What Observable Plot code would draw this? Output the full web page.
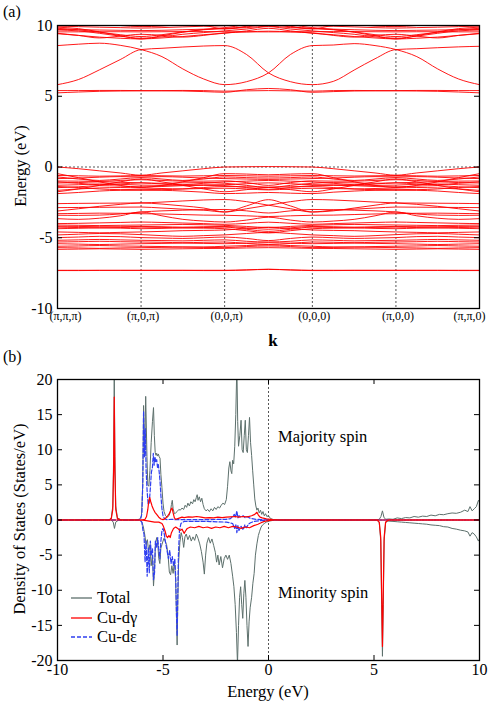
<!DOCTYPE html>
<html><head><meta charset="utf-8">
<script src="https://cdn.jsdelivr.net/npm/d3@7"></script>
<script src="https://cdn.jsdelivr.net/npm/@observablehq/plot@0.6"></script>
<style>
body{margin:0;background:#fff;}
#wrap{position:relative;width:491px;height:703px;color:#000;overflow:hidden;}
.abs{position:absolute;white-space:nowrap;line-height:1;}
.rot{transform:translate(-50%,-50%) rotate(-90deg);}
.ctr{transform:translate(-50%,-50%);}
.mid{transform:translateY(-50%);}
</style></head><body><div id="wrap"></div>
<script>
// ---------- Panel (a): band structure ----------
const kTicks = [0, 1, 2, 3.05, 4.05, 5.05];
const kLabels = ["(\u03c0,\u03c0,\u03c0)", "(\u03c0,0,\u03c0)", "(0,0,\u03c0)", "(0,0,0)", "(\u03c0,0,0)", "(\u03c0,\u03c0,0)"];
const kGrid = [0, 0.25, 0.5, 0.75, 1, 1.25, 1.5, 1.75, 2, 2.2625, 2.525, 2.7875, 3.05, 3.3, 3.55, 3.8, 4.05, 4.3, 4.55, 4.8, 5.05];
const energyTicks = [-10, -5, 0, 5, 10];

const conductionBands = [
  [5.40,5.40,5.41,5.41,5.40,5.40,5.41,5.40,5.36,5.38,5.40,5.38,5.36,5.40,5.41,5.40,5.40,5.41,5.41,5.40,5.40],
  [5.24,5.30,5.35,5.37,5.38,5.38,5.37,5.33,5.28,5.46,5.55,5.46,5.28,5.33,5.37,5.38,5.38,5.37,5.35,5.30,5.24],
  [5.82,6.18,6.86,7.59,8.30,8.39,8.48,8.55,8.58,7.95,6.65,6.03,5.82,6.05,6.85,7.65,8.30,8.36,8.43,8.49,8.53],
  [8.58,8.68,8.75,8.60,8.30,7.80,6.93,6.22,5.82,6.03,6.65,7.95,8.58,8.62,8.72,8.58,8.30,7.80,6.93,6.22,5.82]
];
const upperBands = [
  [9.55,9.55,9.56,9.56,9.55,9.56,9.57,9.57,9.56,9.55,9.55,9.55,9.56,9.57,9.57,9.56,9.55,9.56,9.56,9.55,9.55],
  [9.88,9.78,9.55,9.28,9.05,9.28,9.52,9.72,9.85,10.05,10.3,10.05,9.85,9.72,9.52,9.28,9.05,9.28,9.55,9.78,9.88],
  [9.42,9.30,9.18,9.10,9.05,9.12,9.22,9.35,9.45,9.62,9.80,9.62,9.45,9.35,9.22,9.12,9.05,9.10,9.18,9.30,9.42],
  [9.68,9.62,9.45,9.25,9.10,9.20,9.38,9.50,9.62,9.75,9.92,9.75,9.62,9.50,9.38,9.20,9.10,9.25,9.45,9.62,9.68],
  [9.45,9.30,9.12,9.25,9.38,9.30,9.18,9.30,9.48,9.55,9.60,9.55,9.48,9.30,9.18,9.30,9.38,9.25,9.12,9.30,9.45],
  [9.95,9.92,9.88,9.85,9.82,9.85,9.90,9.95,9.98,10.1,10.25,10.1,9.98,9.95,9.90,9.85,9.82,9.85,9.88,9.92,9.95],
  [10.3,10.2,10.1,10.0,9.92,9.96,10.05,10.0,9.75,9.95,10.3,9.95,9.75,10.0,10.05,9.96,9.92,10.0,10.1,10.2,10.3],
  [9.72,9.70,9.68,9.66,9.64,9.66,9.70,9.74,9.78,9.85,9.95,9.85,9.78,9.74,9.70,9.66,9.64,9.66,9.68,9.70,9.72],
  [9.80,9.70,9.52,9.35,9.22,9.35,9.55,9.70,9.80,9.90,10.1,9.90,9.80,9.70,9.55,9.35,9.22,9.35,9.52,9.70,9.80]
];
const valenceTop = [
  [0,-0.12,-0.27,-0.42,-0.58,-0.42,-0.27,-0.12,0,0.02,0.03,0.02,0,-0.12,-0.27,-0.42,-0.58,-0.42,-0.27,-0.12,0],
  [-0.60,-0.62,-0.65,-0.63,-0.60,-0.62,-0.64,-0.62,-0.60,-0.62,-0.65,-0.62,-0.60,-0.62,-0.64,-0.62,-0.60,-0.62,-0.65,-0.63,-0.60],
  [-0.82,-0.78,-0.72,-0.68,-0.70,-0.68,-0.72,-0.78,-0.82,-0.85,-0.88,-0.85,-0.82,-0.78,-0.72,-0.68,-0.70,-0.68,-0.72,-0.78,-0.82],
  [-0.99,-1.00,-1.02,-0.95,-0.90,-0.95,-1.00,-1.00,-0.98,-1.10,-1.30,-1.10,-0.98,-1.00,-1.00,-0.95,-0.90,-0.95,-1.02,-1.00,-0.99],
  [-1.13,-1.10,-1.05,-1.08,-1.12,-1.15,-1.12,-1.10,-1.15,-1.30,-1.45,-1.30,-1.15,-1.10,-1.12,-1.15,-1.12,-1.08,-1.05,-1.10,-1.13],
  [-1.29,-1.25,-1.20,-1.22,-1.28,-1.30,-1.28,-1.26,-1.25,-1.18,-1.12,-1.18,-1.25,-1.26,-1.28,-1.30,-1.28,-1.22,-1.20,-1.25,-1.29],
  [-1.46,-1.40,-1.32,-1.35,-1.40,-1.38,-1.32,-1.30,-1.32,-1.45,-1.58,-1.45,-1.32,-1.30,-1.32,-1.38,-1.40,-1.35,-1.32,-1.40,-1.46],
  [-1.65,-1.55,-1.48,-1.45,-1.48,-1.52,-1.55,-1.52,-1.50,-1.55,-1.62,-1.55,-1.50,-1.52,-1.55,-1.52,-1.48,-1.45,-1.48,-1.55,-1.65],
  [-1.88,-1.80,-1.70,-1.65,-1.65,-1.65,-1.70,-1.78,-1.88,-1.85,-1.80,-1.85,-1.88,-1.78,-1.70,-1.65,-1.65,-1.65,-1.70,-1.80,-1.88],
  [-0.47,-0.75,-1.05,-1.30,-1.45,-1.30,-1.05,-0.75,-0.47,-0.50,-0.55,-0.50,-0.47,-0.75,-1.05,-1.30,-1.45,-1.30,-1.05,-0.75,-0.47],
  [-1.75,-1.55,-1.30,-1.05,-0.85,-1.05,-1.30,-1.55,-1.75,-1.60,-1.45,-1.60,-1.75,-1.55,-1.30,-1.05,-0.85,-1.05,-1.30,-1.55,-1.75],
  [-1.05,-1.15,-1.25,-1.20,-1.12,-1.20,-1.25,-1.15,-1.05,-1.00,-0.95,-1.00,-1.05,-1.15,-1.25,-1.20,-1.12,-1.20,-1.25,-1.15,-1.05],
  [-1.38,-1.45,-1.55,-1.60,-1.58,-1.60,-1.55,-1.45,-1.38,-1.40,-1.42,-1.40,-1.38,-1.45,-1.55,-1.60,-1.58,-1.60,-1.55,-1.45,-1.38],
  [-0.70,-0.85,-0.95,-0.85,-0.75,-0.85,-0.95,-0.85,-0.70,-0.75,-0.78,-0.75,-0.70,-0.85,-0.95,-0.85,-0.75,-0.85,-0.95,-0.85,-0.70]
];
const valenceMiddle = [
  [-2.59,-2.57,-2.56,-2.55,-2.54,-2.48,-2.40,-2.33,-2.30,-2.45,-2.70,-2.95,-3.18,-3.10,-2.90,-2.70,-2.54,-2.55,-2.56,-2.57,-2.59],
  [-3.11,-2.95,-2.78,-2.64,-2.54,-2.62,-2.75,-2.90,-3.18,-2.95,-2.70,-2.45,-2.30,-2.33,-2.40,-2.48,-2.54,-2.64,-2.78,-2.95,-3.11],
  [-2.87,-2.86,-2.85,-2.84,-2.83,-2.90,-2.98,-3.05,-3.18,-2.75,-2.31,-2.75,-3.18,-3.05,-2.98,-2.90,-2.83,-2.84,-2.85,-2.86,-2.87],
  [-3.41,-3.42,-3.40,-3.32,-3.18,-3.10,-3.05,-3.02,-3.00,-3.10,-3.25,-3.10,-3.00,-3.02,-3.05,-3.10,-3.18,-3.32,-3.40,-3.42,-3.41],
  [-3.65,-3.70,-3.62,-3.45,-3.18,-3.45,-3.70,-3.82,-3.89,-3.75,-3.55,-3.75,-3.89,-3.82,-3.70,-3.45,-3.18,-3.45,-3.62,-3.70,-3.65],
  [-3.30,-3.28,-3.26,-3.27,-3.30,-3.32,-3.36,-3.40,-3.41,-3.45,-3.50,-3.45,-3.41,-3.40,-3.36,-3.32,-3.30,-3.27,-3.26,-3.28,-3.30],
  [-4.00,-3.98,-3.95,-3.92,-3.89,-3.92,-3.96,-4.00,-4.05,-3.98,-3.90,-3.98,-4.05,-4.00,-3.96,-3.92,-3.89,-3.92,-3.95,-3.98,-4.00]
];
const valenceLower = [
  [-4.10,-4.12,-4.14,-4.12,-4.10,-4.08,-4.06,-4.08,-4.12,-4.20,-4.28,-4.20,-4.12,-4.08,-4.06,-4.08,-4.10,-4.12,-4.14,-4.12,-4.10],
  [-4.19,-4.20,-4.22,-4.22,-4.20,-4.22,-4.25,-4.22,-4.20,-4.30,-4.40,-4.30,-4.20,-4.22,-4.25,-4.22,-4.20,-4.22,-4.22,-4.20,-4.19],
  [-4.25,-4.28,-4.30,-4.28,-4.25,-4.27,-4.30,-4.28,-4.25,-4.40,-4.55,-4.40,-4.25,-4.28,-4.30,-4.27,-4.25,-4.28,-4.30,-4.28,-4.25],
  [-4.36,-4.33,-4.30,-4.32,-4.36,-4.34,-4.30,-4.32,-4.36,-4.50,-4.66,-4.50,-4.36,-4.32,-4.30,-4.34,-4.36,-4.32,-4.30,-4.33,-4.36],
  [-4.59,-4.62,-4.65,-4.62,-4.59,-4.55,-4.50,-4.48,-4.45,-4.35,-4.25,-4.35,-4.45,-4.48,-4.50,-4.55,-4.59,-4.62,-4.65,-4.62,-4.59],
  [-4.80,-4.75,-4.70,-4.72,-4.78,-4.85,-4.90,-4.85,-4.80,-4.70,-4.62,-4.70,-4.80,-4.85,-4.90,-4.85,-4.78,-4.72,-4.70,-4.75,-4.80],
  [-4.99,-4.95,-4.90,-4.92,-4.99,-5.02,-5.05,-5.00,-4.95,-5.05,-5.20,-5.05,-4.95,-5.00,-5.05,-5.02,-4.99,-4.92,-4.90,-4.95,-4.99],
  [-5.18,-5.15,-5.12,-5.15,-5.18,-5.20,-5.22,-5.18,-5.15,-5.25,-5.30,-5.25,-5.15,-5.18,-5.22,-5.20,-5.18,-5.15,-5.12,-5.15,-5.18],
  [-5.30,-5.28,-5.25,-5.28,-5.30,-5.32,-5.35,-5.32,-5.30,-5.40,-5.48,-5.40,-5.30,-5.32,-5.35,-5.32,-5.30,-5.28,-5.25,-5.28,-5.30],
  [-5.42,-5.45,-5.48,-5.45,-5.42,-5.40,-5.38,-5.40,-5.42,-5.38,-5.35,-5.38,-5.42,-5.40,-5.38,-5.40,-5.42,-5.45,-5.48,-5.45,-5.42],
  [-5.60,-5.58,-5.55,-5.58,-5.60,-5.62,-5.65,-5.65,-5.60,-5.55,-5.50,-5.55,-5.60,-5.65,-5.65,-5.62,-5.60,-5.58,-5.55,-5.58,-5.60],
  [-5.70,-5.72,-5.75,-5.72,-5.70,-5.68,-5.66,-5.68,-5.70,-5.62,-5.58,-5.62,-5.70,-5.68,-5.66,-5.68,-5.70,-5.72,-5.75,-5.72,-5.70],
  [-5.82,-5.80,-5.78,-5.80,-5.82,-5.80,-5.78,-5.76,-5.75,-5.72,-5.70,-5.72,-5.75,-5.76,-5.78,-5.80,-5.82,-5.80,-5.78,-5.80,-5.82]
];
const deepBands = [
  [-7.30,-7.30,-7.30,-7.30,-7.30,-7.30,-7.30,-7.30,-7.30,-7.27,-7.24,-7.27,-7.30,-7.30,-7.30,-7.30,-7.30,-7.30,-7.30,-7.30,-7.30],
  [-7.32,-7.32,-7.31,-7.31,-7.31,-7.31,-7.31,-7.32,-7.32,-7.28,-7.22,-7.28,-7.32,-7.32,-7.31,-7.31,-7.31,-7.31,-7.31,-7.32,-7.32]
];

// ---------- Panel (b): density of states [energy, DOS] ----------
const dosTicksX = [-10, -5, 0, 5, 10];
const dosTicksY = [-20, -15, -10, -5, 0, 5, 10, 15, 20];
const totalUp = [[-10,0],[-7.55,0.05],[-7.45,0.3],[-7.38,2],[-7.34,9],[-7.31,21],[-7.28,9],[-7.24,2],[-7.16,0.3],[-7.0,0.05],[-6.4,0],[-6.1,0.1],[-6.02,0.6],[-5.96,5],[-5.92,16.3],[-5.87,9],[-5.82,17.6],[-5.76,9],[-5.72,5],[-5.67,4.8],[-5.62,7],[-5.56,11],[-5.5,14],[-5.45,16.0],[-5.41,12],[-5.37,9.6],[-5.33,9.2],[-5.3,9.5],[-5.26,9.1],[-5.22,9.4],[-5.18,9.0],[-5.14,8.8],[-5.1,6.5],[-5.05,4.6],[-5.0,2.4],[-4.95,1.2],[-4.88,0.6],[-4.8,0.4],[-4.72,0.6],[-4.65,1.2],[-4.6,2.2],[-4.56,2.8],[-4.52,1.6],[-4.46,0.9],[-4.4,1.0],[-4.33,1.2],[-4.25,1.5],[-4.18,1.4],[-4.1,1.7],[-4.02,1.5],[-3.95,2.1],[-3.88,1.8],[-3.82,2.4],[-3.75,2.0],[-3.68,2.6],[-3.6,2.3],[-3.54,2.9],[-3.48,2.6],[-3.42,3.2],[-3.38,3.6],[-3.34,2.8],[-3.28,3.3],[-3.22,2.6],[-3.16,3.1],[-3.1,2.2],[-3.04,1.6],[-2.96,1.3],[-2.88,1.5],[-2.8,1.2],[-2.72,1.6],[-2.64,1.3],[-2.56,1.8],[-2.48,1.5],[-2.4,1.9],[-2.32,1.7],[-2.24,2.1],[-2.16,2.4],[-2.08,2.2],[-2.0,2.9],[-1.94,4.8],[-1.88,7.4],[-1.83,8.3],[-1.78,7.0],[-1.74,6.6],[-1.7,8.5],[-1.65,8.0],[-1.6,10.5],[-1.55,15],[-1.5,22],[-1.46,14],[-1.42,10.5],[-1.36,12],[-1.3,14.2],[-1.25,10],[-1.2,9.6],[-1.15,12],[-1.1,14.2],[-1.05,10],[-1.0,9.6],[-0.95,12],[-0.9,14.6],[-0.85,11],[-0.8,9.2],[-0.75,7.0],[-0.7,5.0],[-0.65,3.0],[-0.6,2.0],[-0.55,1.4],[-0.5,1.7],[-0.44,1.0],[-0.38,1.4],[-0.32,0.8],[-0.26,1.2],[-0.2,0.6],[-0.14,0.9],[-0.08,0.5],[0,0.6],[0.1,0.2],[0.25,0.05],[0.5,0],[5.1,0],[5.25,0.1],[5.33,0.5],[5.4,1.3],[5.47,0.4],[5.55,0.1],[5.7,0.15],[5.9,0.1],[6.1,0.3],[6.3,0.2],[6.5,0.35],[6.7,0.3],[6.9,0.5],[7.1,0.4],[7.3,0.55],[7.5,0.5],[7.7,0.7],[7.9,0.6],[8.1,0.8],[8.3,0.75],[8.5,0.9],[8.7,1.0],[8.9,0.95],[9.1,1.1],[9.3,1.4],[9.45,1.2],[9.55,1.9],[9.65,1.3],[9.75,1.6],[9.85,1.9],[9.95,2.8],[10,2.6]];
const totalDown = [[-10,0],[-7.45,0],[-7.36,-0.3],[-7.3,-1.2],[-7.24,-0.3],[-7.1,0],[-6.1,0],[-6.0,-0.3],[-5.93,-1.0],[-5.87,-2.0],[-5.8,-3.5],[-5.74,-2.8],[-5.68,-4.5],[-5.62,-3.5],[-5.56,-6.5],[-5.5,-5.0],[-5.45,-9.4],[-5.4,-7.0],[-5.36,-3.5],[-5.3,-2.5],[-5.25,-3.3],[-5.2,-5.5],[-5.15,-6.2],[-5.1,-4.0],[-5.05,-3.5],[-5.0,-3.0],[-4.95,-2.6],[-4.9,-3.0],[-4.83,-3.5],[-4.76,-5.0],[-4.7,-7.4],[-4.64,-7.8],[-4.58,-6.5],[-4.52,-7.6],[-4.46,-6.0],[-4.4,-8.5],[-4.36,-14],[-4.33,-17.8],[-4.3,-12],[-4.26,-6],[-4.2,-3.2],[-4.14,-1.8],[-4.08,-2.5],[-4.02,-3.9],[-3.96,-2.4],[-3.9,-2.0],[-3.82,-2.8],[-3.74,-2.2],[-3.66,-3.0],[-3.58,-2.4],[-3.5,-2.9],[-3.42,-2.0],[-3.34,-2.6],[-3.26,-3.4],[-3.18,-4.5],[-3.1,-6.0],[-3.04,-7.7],[-2.98,-5.0],[-2.92,-3.3],[-2.84,-2.5],[-2.76,-3.3],[-2.68,-2.7],[-2.6,-3.6],[-2.52,-4.6],[-2.46,-6.0],[-2.4,-5.0],[-2.34,-6.4],[-2.26,-5.2],[-2.18,-6.8],[-2.1,-5.5],[-2.02,-5.0],[-1.94,-5.6],[-1.86,-5.0],[-1.78,-6.2],[-1.7,-8.0],[-1.64,-9.5],[-1.58,-12],[-1.52,-16],[-1.47,-20.5],[-1.42,-15],[-1.37,-11],[-1.32,-9.5],[-1.27,-12],[-1.22,-14],[-1.17,-10.5],[-1.12,-8.6],[-1.07,-11],[-1.02,-15],[-0.97,-18],[-0.92,-14.5],[-0.87,-12.5],[-0.8,-11],[-0.74,-9],[-0.68,-7.6],[-0.62,-5],[-0.55,-3.4],[-0.48,-2.2],[-0.42,-1.6],[-0.35,-1.0],[-0.28,-0.7],[-0.2,-0.5],[-0.1,-0.3],[0.05,-0.15],[0.3,0],[5.15,0],[5.25,-0.4],[5.32,-3],[5.36,-12],[5.4,-19.4],[5.44,-12],[5.48,-3],[5.55,-0.4],[5.65,-0.15],[5.9,-0.2],[6.1,-0.25],[6.3,-0.3],[6.5,-0.35],[6.7,-0.4],[6.9,-0.45],[7.1,-0.5],[7.3,-0.55],[7.5,-0.6],[7.7,-0.7],[7.9,-0.75],[8.1,-0.8],[8.3,-0.95],[8.5,-1.0],[8.7,-1.2],[8.9,-1.3],[9.1,-1.45],[9.3,-1.55],[9.45,-1.7],[9.55,-2.3],[9.65,-1.8],[9.75,-2.0],[9.85,-2.4],[9.95,-3.0],[10,-2.7]];
const dGammaUp = [[-10,0],[-7.55,0],[-7.45,0.2],[-7.38,1.5],[-7.34,7],[-7.31,17.5],[-7.28,7],[-7.24,1.5],[-7.16,0.2],[-7.0,0],[-6.0,0],[-5.85,0.1],[-5.78,0.5],[-5.72,1.5],[-5.67,2.8],[-5.63,3.2],[-5.58,2.6],[-5.52,2.0],[-5.45,1.5],[-5.38,1.1],[-5.3,0.8],[-5.2,0.4],[-5.1,0.15],[-5.0,0.05],[-4.9,0.2],[-4.8,0.5],[-4.7,0.9],[-4.62,1.5],[-4.57,1.7],[-4.52,1.0],[-4.46,0.3],[-4.4,0.1],[-4.3,0.2],[-4.2,0.3],[-4.1,0.4],[-4.0,0.35],[-3.8,0.45],[-3.6,0.4],[-3.4,0.5],[-3.2,0.4],[-3.0,0.3],[-2.8,0.35],[-2.6,0.3],[-2.4,0.4],[-2.2,0.35],[-2.0,0.4],[-1.8,0.45],[-1.6,0.5],[-1.4,0.4],[-1.2,0.5],[-1.0,0.45],[-0.8,0.6],[-0.65,0.8],[-0.55,1.1],[-0.48,0.7],[-0.4,0.4],[-0.3,0.3],[-0.1,0.15],[0.2,0.05],[0.5,0],[10,0]];
const dGammaDown = [[-10,0],[-6.0,0],[-5.8,-0.1],[-5.6,-0.2],[-5.4,-0.3],[-5.2,-0.3],[-5.05,-0.5],[-4.98,-0.9],[-4.9,-1.6],[-4.84,-2.3],[-4.78,-2.5],[-4.72,-2.2],[-4.66,-2.5],[-4.6,-1.8],[-4.5,-1.2],[-4.4,-1.0],[-4.3,-1.2],[-4.2,-1.5],[-4.1,-1.3],[-4.0,-1.9],[-3.94,-1.6],[-3.85,-1.2],[-3.7,-1.0],[-3.5,-1.1],[-3.3,-0.9],[-3.1,-1.1],[-2.9,-1.0],[-2.7,-1.2],[-2.5,-1.0],[-2.3,-1.1],[-2.1,-0.9],[-1.9,-1.1],[-1.7,-0.9],[-1.5,-1.0],[-1.3,-1.2],[-1.1,-1.0],[-0.9,-1.1],[-0.7,-0.8],[-0.5,-0.6],[-0.35,-0.4],[-0.2,-0.2],[0,-0.1],[0.3,0],[5.15,0],[5.25,-0.3],[5.32,-2.5],[5.36,-10],[5.4,-18],[5.44,-10],[5.48,-2.5],[5.55,-0.3],[5.7,0],[10,0]];
const dEpsUp = [[-10,0],[-6.2,0],[-6.05,0.2],[-6.0,1.0],[-5.96,5],[-5.92,15.5],[-5.88,9],[-5.84,13],[-5.8,7],[-5.75,4],[-5.7,2.2],[-5.65,2.5],[-5.6,4.5],[-5.55,6.8],[-5.5,7.5],[-5.46,9.5],[-5.42,7.8],[-5.38,9],[-5.34,8.2],[-5.3,8.6],[-5.26,7.5],[-5.22,7.9],[-5.18,6.8],[-5.14,5.5],[-5.1,3.5],[-5.05,1.6],[-5.0,0.6],[-4.92,0.15],[-4.8,0.05],[-4.6,0.1],[-4.4,0.05],[-4.0,0.05],[-3.0,0.05],[-2.0,0.1],[-1.8,0.2],[-1.7,0.5],[-1.62,0.8],[-1.56,0.4],[-1.5,1.3],[-1.45,0.3],[-1.4,0.6],[-1.3,0.4],[-1.2,0.6],[-1.1,0.3],[-1.0,0.5],[-0.9,0.3],[-0.8,0.2],[-0.6,0.1],[-0.3,0.05],[0,0],[10,0]];
const dEpsDown = [[-10,0],[-6.1,0],[-6.0,-0.3],[-5.95,-1.5],[-5.9,-2],[-5.85,-6],[-5.8,-3],[-5.75,-8],[-5.7,-4],[-5.65,-7.5],[-5.6,-3],[-5.55,-5],[-5.5,-4],[-5.45,-8.5],[-5.4,-7.5],[-5.36,-3],[-5.3,-4],[-5.25,-2.5],[-5.2,-4.2],[-5.15,-5.5],[-5.1,-3],[-5.05,-1.5],[-5.0,-1.2],[-4.95,-1.8],[-4.88,-3.2],[-4.8,-4.5],[-4.74,-5.5],[-4.68,-4.3],[-4.62,-6.2],[-4.56,-5.2],[-4.5,-6.5],[-4.44,-5.5],[-4.4,-8],[-4.36,-13.5],[-4.33,-16.5],[-4.3,-11],[-4.27,-5],[-4.22,-1.5],[-4.15,-0.5],[-4.0,-0.2],[-3.0,-0.2],[-2.0,-0.3],[-1.7,-0.5],[-1.6,-1.2],[-1.55,-0.6],[-1.5,-1.8],[-1.45,-0.8],[-1.4,-1.5],[-1.3,-0.9],[-1.2,-1.4],[-1.12,-0.7],[-1.05,-1.1],[-0.95,-0.6],[-0.85,-0.4],[-0.7,-0.2],[-0.4,-0.1],[0,0],[10,0]];

const legendItems = [
  {label: "Total", color: "#5d706c", dash: null},
  {label: "Cu-d\u03b3", color: "#ff0000", dash: null},
  {label: "Cu-d\u03b5", color: "#2f3ff0", dash: "4,2"}
];

// ---------- build ----------
const FONT = "'Liberation Serif', serif";
const wrap = document.getElementById("wrap");
function addText(html, cls, left, top, size) {
  const d = document.createElement("div");
  d.className = "abs " + cls;
  d.style.left = left + "px"; d.style.top = top + "px";
  d.style.fontSize = size + "px";
  d.style.fontFamily = FONT;
  d.innerHTML = html;
  wrap.appendChild(d);
  return d;
}
function serifize(svg) {
  svg.style.fontFamily = FONT;
  svg.querySelectorAll("text, g").forEach(el => { el.style.fontFamily = FONT; });
}

const allBands = [...conductionBands, ...upperBands, ...valenceTop, ...valenceMiddle, ...valenceLower, ...deepBands];
const bandRows = [];
allBands.forEach((b, bi) => b.forEach((E, i) => bandRows.push({band: bi, k: kGrid[i], E})));

const WA = 491, HA = 330, mLA = 57, mRA = 12, mTA = 25, mBA = 22;
const fwA = WA - mLA - mRA, fhA = HA - mTA - mBA;
const kFmt = d => kLabels[kTicks.indexOf(d)];
const plotA = Plot.plot({
  width: WA, height: HA, marginLeft: mLA, marginRight: mRA, marginTop: mTA, marginBottom: mBA,
  style: {fontFamily: FONT, fontSize: "16px", background: "transparent", overflow: "visible", color: "#000"},
  x: {domain: [kTicks[0], kTicks[kTicks.length - 1]]},
  y: {domain: [-10, 10]},
  marks: [
    Plot.ruleX(kTicks.slice(1, -1), {stroke: "#444", strokeDasharray: "2,2", strokeWidth: 0.9}),
    Plot.ruleY([0], {stroke: "#444", strokeDasharray: "2,2", strokeWidth: 0.9}),
    Plot.line(bandRows, {x: "k", y: "E", z: "band", stroke: "#ff0000", strokeWidth: 0.9, curve: "monotone-x", clip: true}),
    Plot.tickY(energyTicks, {y: d => d, stroke: "#000", insetRight: fwA - 5}),
    Plot.tickY(energyTicks, {y: d => d, stroke: "#000", insetLeft: fwA - 5}),
    Plot.frame({stroke: "#000", strokeWidth: 1.3}),
    Plot.axisY(energyTicks, {anchor: "left", tickSize: 0, tickPadding: 5, tickFormat: d => String(d), label: null, fontSize: 16}),
    Plot.axisX(kTicks.slice(1, -1), {anchor: "bottom", tickSize: 0, tickPadding: 3, dx: 2, tickFormat: kFmt, label: null, fontSize: 12}),
    Plot.axisX(kTicks.slice(0, 1), {anchor: "bottom", tickSize: 0, tickPadding: 3, dx: 8, tickFormat: kFmt, label: null, fontSize: 12}),
    Plot.axisX(kTicks.slice(-1), {anchor: "bottom", tickSize: 0, tickPadding: 3, dx: -10, tickFormat: kFmt, label: null, fontSize: 12})
  ]
});
serifize(plotA);
plotA.style.position = "absolute"; plotA.style.left = "0px"; plotA.style.top = "0px";
wrap.appendChild(plotA);

const TB = 355, WB = 491, HB = 348, mLB = 57, mRB = 12, mTB = 24, mBB = 43;
const fwB = WB - mLB - mRB, fhB = HB - mTB - mBB;
const series = [
  {data: totalUp, color: legendItems[0].color, w: 1, dash: null},
  {data: totalDown, color: legendItems[0].color, w: 1, dash: null},
  {data: dEpsUp, color: legendItems[2].color, w: 1.2, dash: "4,2"},
  {data: dEpsDown, color: legendItems[2].color, w: 1.2, dash: "4,2"},
  {data: dGammaUp, color: legendItems[1].color, w: 1.2, dash: null},
  {data: dGammaDown, color: legendItems[1].color, w: 1.2, dash: null}
];
const plotB = Plot.plot({
  width: WB, height: HB, marginLeft: mLB, marginRight: mRB, marginTop: mTB, marginBottom: mBB,
  style: {fontFamily: FONT, fontSize: "16px", background: "transparent", overflow: "visible", color: "#000"},
  x: {domain: [-10, 10]},
  y: {domain: [-20, 20]},
  marks: [
    Plot.ruleX([0], {stroke: "#444", strokeDasharray: "2,2", strokeWidth: 0.9}),
    ...series.map(s => Plot.line(s.data, {stroke: s.color, strokeWidth: s.w, strokeDasharray: s.dash, clip: true})),
    Plot.tickY(dosTicksY, {y: d => d, stroke: "#000", insetRight: fwB - 5}),
    Plot.tickY(dosTicksY, {y: d => d, stroke: "#000", insetLeft: fwB - 5}),
    Plot.tickX(dosTicksX, {x: d => d, stroke: "#000", insetTop: fhB - 5}),
    Plot.tickX(dosTicksX, {x: d => d, stroke: "#000", insetBottom: fhB - 5}),
    Plot.frame({stroke: "#000", strokeWidth: 1.3}),
    Plot.axisY(dosTicksY, {anchor: "left", tickSize: 0, tickPadding: 5, tickFormat: d => String(d), label: null, fontSize: 16}),
    Plot.axisX(dosTicksX, {anchor: "bottom", tickSize: 0, tickPadding: 3, tickFormat: d => String(d), label: null, fontSize: 16})
  ]
});
serifize(plotB);
plotB.style.position = "absolute"; plotB.style.left = "0px"; plotB.style.top = TB + "px";
wrap.appendChild(plotB);

// text annotations
addText("(a)", "mid", 3, 12, 16);
addText("Energy (eV)", "rot", 21, 166, 16.5);
addText("<b>k</b>", "ctr", 273, 340, 17);
addText("(b)", "mid", 3, 357, 16);
addText("Density of States (States/eV)", "rot", 20, 519, 16.5);
addText("Energy (eV)", "ctr", 268, 692, 16.5);
addText("Majority spin", "mid", 278, 437, 16.5);
addText("Minority spin", "mid", 278, 593, 16.5);

// legend
const legendY = [598, 618, 637];
legendItems.forEach((it, i) => {
  const svg = d3.create("svg").attr("width", 22).attr("height", 6)
    .style("position", "absolute").style("left", "71px").style("top", (legendY[i] - 3) + "px");
  svg.append("line").attr("x1", 0).attr("x2", 21).attr("y1", 3).attr("y2", 3)
    .attr("stroke", it.color).attr("stroke-width", 1.3).attr("stroke-dasharray", it.dash);
  wrap.appendChild(svg.node());
  addText(it.label, "mid", 97, legendY[i], 16.5);
});
</script></body></html>
